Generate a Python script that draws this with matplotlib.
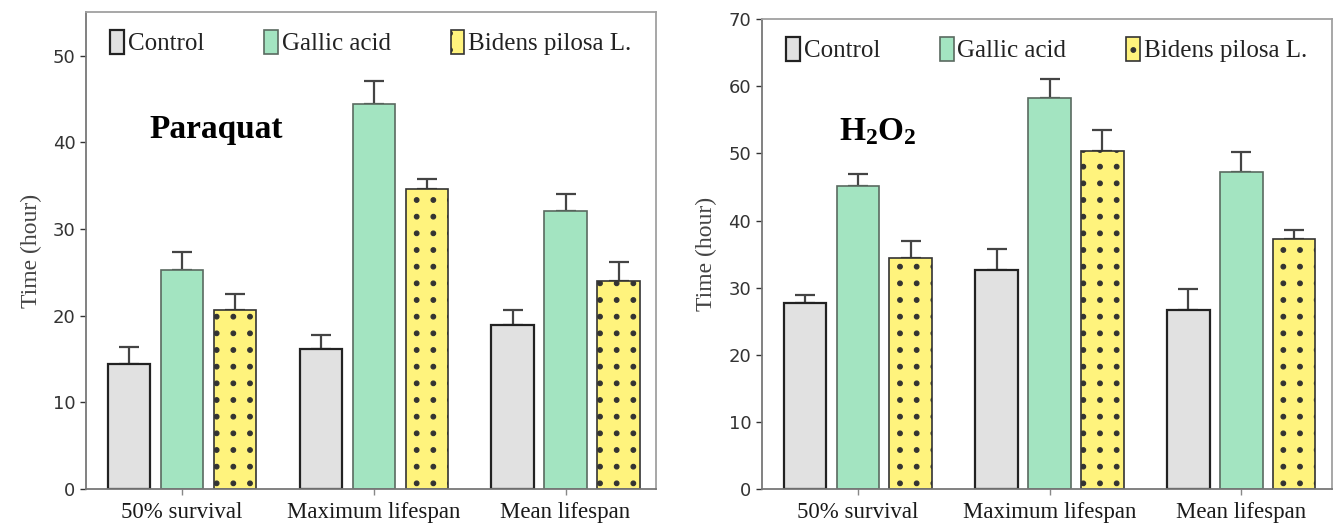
import matplotlib.pyplot as plt
import matplotlib.hatch as mhatch
from matplotlib.path import Path
import numpy as np

categories = ['50% survival', 'Maximum lifespan', 'Mean lifespan']
groups = ['Control', 'Gallic acid', 'Bidens pilosa L.']

# Paraquat (hours) - means and upper error
paraquat_mean = {
    'Control': [14.4, 16.1, 18.9],
    'Gallic acid': [25.3, 44.4, 32.1],
    'Bidens pilosa L.': [20.6, 34.6, 24.0],
}
paraquat_err = {
    'Control': [2.0, 1.7, 1.7],
    'Gallic acid': [2.1, 2.7, 1.9],
    'Bidens pilosa L.': [1.9, 1.2, 2.2],
}

# H2O2 (hours)
h2o2_mean = {
    'Control': [27.7, 32.7, 26.7],
    'Gallic acid': [45.1, 58.2, 47.3],
    'Bidens pilosa L.': [34.4, 50.4, 37.3],
}
h2o2_err = {
    'Control': [1.2, 3.0, 3.1],
    'Gallic acid': [1.9, 2.9, 2.9],
    'Bidens pilosa L.': [2.5, 3.1, 1.3],
}

# estilo de cada grupo
face = {'Control': '#e1e1e1', 'Gallic acid': '#a3e4c1', 'Bidens pilosa L.': '#fff37d'}
edge = {'Control': '#222222', 'Gallic acid': '#5a6a60', 'Bidens pilosa L.': '#333333'}
hatch = {'Control': None, 'Gallic acid': None, 'Bidens pilosa L.': '.'}


# pontos alinhados em grade (o '.' padrao fica intercalado)
class DotGrid(mhatch.Shapes):
    filled = True
    size = 0.14

    def __init__(self, hatch, density):
        self.num_rows = hatch.count('.') * density
        path = Path.unit_circle()
        self.shape_vertices = path.vertices
        self.shape_codes = path.codes
        super().__init__(hatch, density)
        if self.num_rows:
            self.num_shapes = (self.num_rows + 1) ** 2
            self.num_vertices = self.num_shapes * len(self.shape_vertices)

    def set_vertices_and_codes(self, vertices, codes):
        offset = 1.0 / self.num_rows
        shape_vertices = self.shape_vertices * offset * self.size
        n = len(shape_vertices)
        cursor = 0
        cols = np.linspace(0, 1, self.num_rows + 1)
        for row in range(self.num_rows + 1):
            for col in cols:
                vertices[cursor:cursor + n] = shape_vertices + (col, row * offset)
                codes[cursor:cursor + n] = self.shape_codes
                cursor += n


mhatch._hatch_types = [DotGrid if h is mhatch.SmallFilledCircles else h
                       for h in mhatch._hatch_types]

plt.rcParams['hatch.linewidth'] = 0.8
plt.rcParams['mathtext.fontset'] = 'custom'
plt.rcParams['mathtext.rm'] = 'Liberation Serif'
plt.rcParams['mathtext.bf'] = 'Liberation Serif:bold'

fig = plt.figure(figsize=(13.41, 5.29), dpi=100)
ax1 = fig.add_axes([0.064, 0.0756, 0.425, 0.901])
ax2 = fig.add_axes([0.568, 0.0756, 0.425, 0.888])

serif = 'Liberation Serif'

def draw(ax, means, errs, ymax, ticks, title, title_xy):
    x = np.arange(len(categories))
    offs = [-0.276, 0.0, 0.276]
    w = 0.22
    for g, o in zip(groups, offs):
        ax.bar(x + o, means[g], w, color=face[g], edgecolor=edge[g],
               linewidth=1.6 if g == 'Control' else 1.2, hatch=hatch[g], label=g, zorder=2)
        ax.errorbar(x + o, means[g], yerr=[np.zeros(3), errs[g]], fmt='none',
                    ecolor='#444444', elinewidth=1.6, capsize=7, capthick=1.6, zorder=1)
    ax.set_xlim(-0.5, 2.47)
    ax.set_ylim(0, ymax)
    ax.set_yticks(ticks)
    ax.set_xticks(x)
    ax.set_xticklabels(categories, family=serif, fontsize=16.5, color='#1a1a1a')
    ax.tick_params(axis='y', labelsize=13, colors='#333333', length=4, width=1)
    ax.tick_params(axis='x', length=4, width=1, colors='#888888', labelcolor='#1a1a1a', pad=5)
    ax.set_ylabel('Time (hour)', family=serif, fontsize=17, color='#444444', labelpad=8)
    for s in ['top', 'right']:
        ax.spines[s].set_color('#a0a0a0')
        ax.spines[s].set_linewidth(1.3)
    for s in ['left', 'bottom']:
        ax.spines[s].set_color('#777777')
        ax.spines[s].set_linewidth(1.3)
    leg = ax.legend(loc='upper center', ncol=3, frameon=False, bbox_to_anchor=(0.5, 1.0),
                    prop={'family': serif, 'size': 18}, handlelength=0.55, handleheight=1.1,
                    handletextpad=0.15, columnspacing=2.4, borderaxespad=0.3)
    for t in leg.get_texts():
        t.set_color('#222222')
    ax.text(title_xy[0], title_xy[1], title, transform=ax.transAxes, family=serif,
            fontsize=24, fontweight='bold', ha='left', va='center')

draw(ax1, paraquat_mean, paraquat_err, 55, [0, 10, 20, 30, 40, 50], 'Paraquat', (0.112, 0.755))
draw(ax2, h2o2_mean, h2o2_err, 70, [0, 10, 20, 30, 40, 50, 60, 70], r'$\mathbf{H_2O_2}$', (0.135, 0.76))

fig.savefig('out.png', dpi=100)
